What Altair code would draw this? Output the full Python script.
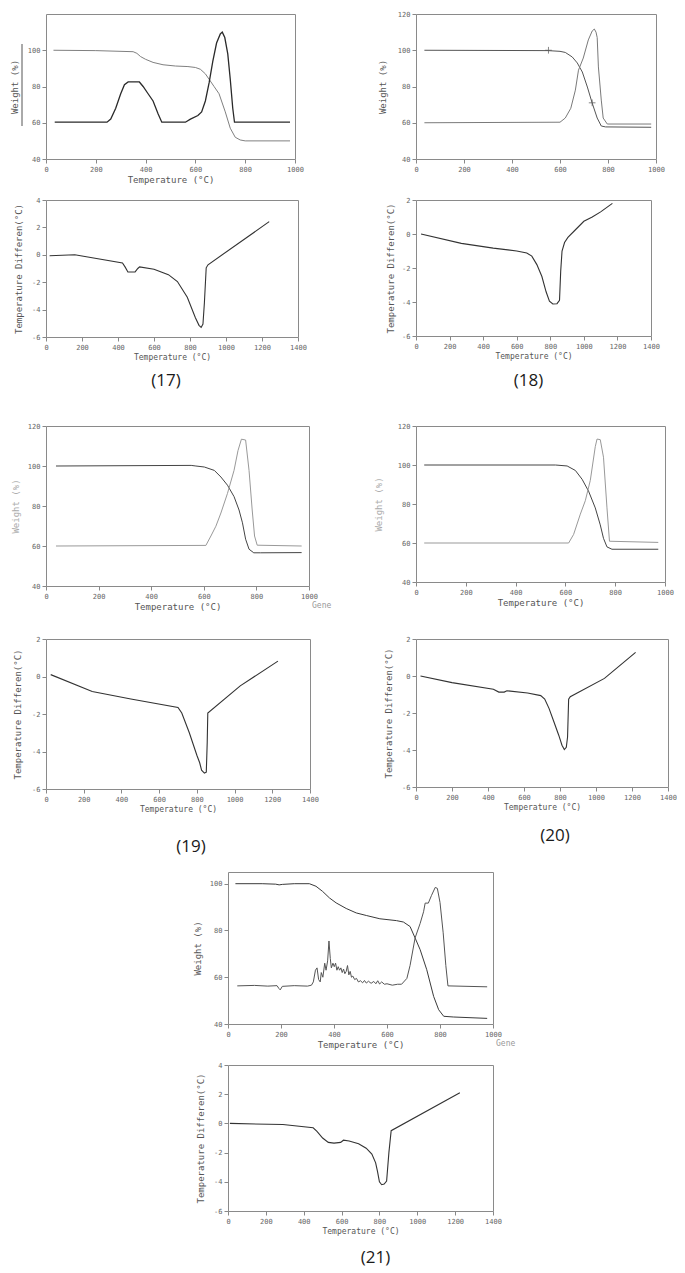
import altair as alt
import pandas as pd

# ---------------- data ----------------
TGA_X_TICKS = [0, 200, 400, 600, 800, 1000]
DTA_X_TICKS = [0, 200, 400, 600, 800, 1000, 1200, 1400]

# (17) TGA: weight curve and derivative-type curve  (temperature, value)
tga17_weight = [(30, 100), (200, 99.8), (350, 99.2), (365, 98.3), (380, 96.5), (400, 95), (430, 93.3),
                (470, 92), (520, 91.3), (570, 91), (600, 90.5), (620, 89.5), (640, 87), (655, 84),
                (675, 80), (695, 76), (720, 66), (740, 57), (760, 52), (780, 50.5), (800, 50), (980, 50)]
tga17_deriv = [(35, 60.3), (245, 60.3), (260, 62), (280, 68), (300, 76), (315, 81), (330, 82.5), (375, 82.5),
               (390, 80), (410, 76), (430, 72), (450, 65), (465, 60.3), (560, 60.3), (580, 62), (610, 64),
               (625, 66), (640, 72), (655, 82), (670, 94), (685, 104), (700, 109), (708, 110), (718, 107),
               (730, 98), (740, 84), (750, 68), (757, 60.3), (980, 60.3)]
# (18) TGA
tga18_weight = [(35, 100), (550, 99.8), (600, 99.4), (622, 98.8), (651, 96.3), (672, 93), (693, 88),
                (714, 79.7), (734, 70.9), (755, 62.6), (772, 58.2), (790, 57.7), (980, 57.5)]
tga18_deriv = [(35, 60), (600, 60.3), (622, 62.6), (645, 68), (664, 78), (677, 89), (697, 95.7),
               (718, 105.7), (734, 110.6), (743, 111.7), (750, 110), (755, 107), (760, 90.8), (772, 72.5),
               (780, 62.6), (797, 59.3), (980, 59.3)]
tga18_marks = [(552, 100), (734, 71)]
# (19) TGA
tga19_weight = [(38, 100), (552, 100.3), (570, 100), (602, 99.5), (640, 97.8), (665, 94.5), (690, 90.4),
                (715, 84.7), (734, 78), (747, 71.6), (759, 63.4), (772, 58.4), (790, 56.6), (815, 56.6),
                (972, 56.7)]
tga19_deriv = [(38, 60), (608, 60.3), (627, 65), (646, 69.9), (665, 76.5), (690, 86.3), (715, 97.8),
               (730, 107.7), (743, 113.4), (759, 113), (772, 97.8), (784, 78), (793, 65), (803, 60.4),
               (972, 60)]
# (20) TGA
tga20_weight = [(33, 100), (560, 100), (607, 99.5), (640, 97.2), (667, 92.7), (693, 86.6), (720, 78),
                (740, 69.3), (753, 62.4), (767, 58), (787, 56.8), (973, 56.8)]
tga20_deriv = [(33, 60), (613, 60), (633, 64.4), (660, 74.8), (680, 81.7), (700, 92.1), (720, 109.4),
               (727, 113.3), (740, 113), (753, 104), (767, 78), (777, 60.9), (973, 60.3)]
# (21) TGA
tga21_weight = [(28, 100), (129, 100), (180, 99.8), (193, 99.5), (205, 99.7), (250, 100), (307, 100),
                (332, 98.9), (357, 96.7), (383, 93.9), (408, 91.8), (446, 89.4), (484, 87.5), (522, 86.4),
                (573, 85), (636, 84.2), (662, 83.6), (687, 81.7), (706, 76.8), (725, 71.8), (750, 63.2),
                (776, 51.8), (795, 46.1), (814, 43.3), (850, 43), (978, 42.4)]
tga21_deriv = [(35, 56.3), (100, 56.5), (150, 56.2), (185, 56.4), (192, 55.2), (197, 54.6), (205, 56.1),
               (250, 56.4), (300, 56.2), (315, 56.6), (322, 58), (330, 63), (336, 64), (342, 59), (348, 58),
               (352, 62), (358, 60), (365, 66), (370, 63), (376, 67), (381, 75.5), (386, 68), (390, 64),
               (396, 66), (401, 64.5), (406, 66), (411, 63), (416, 64.5), (421, 63), (426, 64), (431, 62),
               (436, 63.5), (441, 61.5), (446, 62.5), (451, 65), (456, 61), (461, 62.5), (466, 60),
               (471, 60.5), (478, 59), (485, 59.5), (492, 58), (500, 58.5), (508, 57.6), (515, 58.6),
               (522, 57.5), (530, 58.3), (540, 57.4), (550, 58.2), (558, 57.2), (565, 58.5), (572, 57.1),
               (580, 58), (590, 57), (600, 57.2), (620, 56.6), (640, 57), (655, 57), (675, 59.5), (687, 65),
               (706, 76.8), (725, 83), (738, 88), (744, 91.7), (756, 91.7), (768, 95), (782, 98.4),
               (790, 98), (800, 92), (812, 79), (822, 65), (830, 56.3), (978, 55.9)]

# DTA curves (temperature, temperature difference)
dta17 = [(20, -0.07), (160, 0), (425, -0.6), (440, -0.9), (455, -1.25), (495, -1.25), (510, -1.0),
         (520, -0.88), (600, -1.05), (680, -1.45), (730, -1.95), (785, -3.1), (830, -4.6), (850, -5.15),
         (862, -5.3), (872, -5.05), (880, -3.5), (890, -0.95), (900, -0.73), (1240, 2.42)]
dta18 = [(30, 0), (270, -0.55), (460, -0.83), (600, -1.0), (660, -1.12), (690, -1.3), (720, -1.8),
         (750, -2.5), (775, -3.4), (795, -3.95), (815, -4.12), (840, -4.1), (855, -3.9), (862, -2.2),
         (870, -1.0), (885, -0.5), (905, -0.2), (950, 0.25), (1000, 0.75), (1050, 1.0), (1100, 1.3),
         (1170, 1.8)]
dta19 = [(25, 0.1), (245, -0.8), (450, -1.2), (700, -1.65), (720, -1.95), (760, -3.0), (800, -4.2),
         (815, -4.6), (825, -5.0), (840, -5.15), (850, -5.1), (855, -3.5), (858, -1.95), (1030, -0.5),
         (1230, 0.82)]
dta20 = [(25, 0), (200, -0.36), (430, -0.72), (460, -0.87), (490, -0.87), (505, -0.8), (620, -0.92),
         (693, -1.06), (715, -1.25), (739, -1.75), (766, -2.47), (793, -3.2), (811, -3.74), (824, -3.98),
         (835, -3.85), (842, -3.3), (848, -1.25), (857, -1.12), (1047, -0.13), (1220, 1.28)]
dta21 = [(10, 0), (290, -0.08), (450, -0.3), (470, -0.55), (500, -1.0), (530, -1.3), (560, -1.35),
         (595, -1.3), (610, -1.15), (640, -1.2), (690, -1.4), (730, -1.7), (760, -2.1), (780, -2.7),
         (790, -3.3), (800, -4.0), (812, -4.2), (825, -4.15), (838, -3.95), (850, -2.0), (862, -0.5),
         (1225, 2.1)]

panel_labels = ["(17)", "(18)", "(19)", "(20)", "(21)"]

# ---------------- styling ----------------
MONO = "DejaVu Sans Mono"
SANS = "Open Sans"
FRAME = "#8a8a8a"
SP_DF = pd.DataFrame({"v": [0]})
LABEL_EXPR = "datum.value + ''"


def spacer(w, h):
    return alt.Chart(SP_DF).mark_point(opacity=0, size=1).encode(
        x=alt.value(0), y=alt.value(0)
    ).properties(width=w, height=h, view=alt.ViewBackground(stroke="transparent"))


def x_axis(values, title, label_size=7, title_size=9):
    return alt.Axis(values=values, title=title, labelExpr=LABEL_EXPR, labelFontSize=label_size,
                    titleFontSize=title_size, tickSize=4, labelPadding=2, titlePadding=3,
                    labelFlush=False)


def y_axis(values, title, pad, color="#555", size=9):
    return alt.Axis(values=values, title=title, labelExpr=LABEL_EXPR, labelFontSize=7,
                    titleFontSize=size, titlePadding=pad, titleColor=color, tickSize=4,
                    labelPadding=2)


def tga_panel(weight, deriv, w, h, ydom, yticks, xtitle, pad, wcolor, dcolor, dwidth=1.0,
              ytitle_color="#555", marks=None, gene=False, underline=False):
    xs = alt.Scale(domain=[0, 1000], nice=False, zero=False)
    ys = alt.Scale(domain=ydom, nice=False, zero=False)
    xa = x_axis(TGA_X_TICKS, xtitle)
    ya = y_axis(yticks, "Weight (%)", pad, ytitle_color)
    enc = dict(x=alt.X("T:Q", scale=xs, axis=xa), y=alt.Y("V:Q", scale=ys, axis=ya))
    wdf = pd.DataFrame(weight, columns=["T", "V"])
    ddf = pd.DataFrame(deriv, columns=["T", "V"])
    layers = [
        alt.Chart(wdf).mark_line(strokeWidth=1, color=wcolor).encode(**enc),
        alt.Chart(ddf).mark_line(strokeWidth=dwidth, color=dcolor).encode(**enc),
    ]
    if marks:
        mdf = pd.DataFrame(marks, columns=["T", "V"])
        layers.append(alt.Chart(mdf).mark_point(shape="M-1,0H1M0,-1V1", size=45, filled=False,
                                                color="#555", strokeWidth=1).encode(**enc))
    if gene:
        layers.append(alt.Chart(SP_DF).mark_text(text="Gene", font=MONO, fontSize=8, color="#999",
                                                 align="left", baseline="middle").encode(
            x=alt.value(w + 3), y=alt.value(h + 20)))
    if underline:
        layers.append(alt.Chart(SP_DF).mark_rule(color="#555", strokeWidth=1).encode(
            x=alt.value(-24), y=alt.value(30), y2=alt.value(112)))
    return alt.layer(*layers).properties(width=w, height=h)


def dta_panel(points, w, h, ydom, yticks, pad, label, offset, dx):
    df = pd.DataFrame(points, columns=["T", "V"])
    xs = alt.Scale(domain=[0, 1400], nice=False, zero=False)
    ys = alt.Scale(domain=ydom, nice=False, zero=False)
    ch = alt.Chart(df).mark_line(strokeWidth=1.1, color="#333").encode(
        x=alt.X("T:Q", scale=xs, axis=x_axis(DTA_X_TICKS, "Temperature (°C)", 7, 8)),
        y=alt.Y("V:Q", scale=ys, axis=y_axis(yticks, "Temperature Differen(°C)", pad, "#555", 9)),
    )
    return ch.properties(
        width=w, height=h,
        title=alt.TitleParams(text=label, orient="bottom", anchor="middle", frame="group",
                              offset=offset, dx=dx, font=SANS, fontSize=17, fontWeight="normal",
                              color="#1a1a1a", baseline="middle"))


T_TEXT = "Temperature (°C)"
Y120 = [40, 60, 80, 100, 120]
D4 = [-6, -4, -2, 0, 2, 4]
D2 = [-6, -4, -2, 0, 2]

tga17 = tga_panel(tga17_weight, tga17_deriv, 249, 145, [40, 120], [40, 60, 80, 100], T_TEXT, 8,
                  "#808080", "#2a2a2a", dwidth=1.3, underline=True)
tga18 = tga_panel(tga18_weight, tga18_deriv, 240, 145, [40, 120], Y120, "", 10,
                  "#555555", "#7a7a7a", marks=tga18_marks)
tga19 = tga_panel(tga19_weight, tga19_deriv, 263, 160, [40, 120], Y120, T_TEXT, 7,
                  "#444444", "#999999", ytitle_color="#aaaaaa", gene=True)
tga20 = tga_panel(tga20_weight, tga20_deriv, 249, 156, [40, 120], Y120, T_TEXT, 14,
                  "#444444", "#999999", ytitle_color="#aaaaaa")
tga21 = tga_panel(tga21_weight, tga21_deriv, 265, 152, [40, 105], [40, 60, 80, 100], T_TEXT, 7,
                  "#3a3a3a", "#555555", gene=True)

d17 = dta_panel(dta17, 252, 137, [-6, 4], D4, 8, panel_labels[0], 20, -6)
d18 = dta_panel(dta18, 235, 136, [-6, 2], D2, 6, panel_labels[1], 21, -5)
d19 = dta_panel(dta19, 264, 150, [-6, 2], D2, 9, panel_labels[2], 34, 13)
d20 = dta_panel(dta20, 252, 148, [-6, 2], D2, 8, panel_labels[3], 25, 13)
d21 = dta_panel(dta21, 265, 146, [-6, 4], D4, 8, panel_labels[4], 23, 15)

# ---------------- layout: two flush grids stacked ----------------
S = spacer
top_cells = [
    S(37, 1), S(1, 5), S(106, 1), S(1, 5),
    S(37, 1), tga17, S(106, 1), tga18,
    S(1, 1), S(1, 41), S(1, 1), S(1, 41),
    S(37, 1), d17, S(106, 1), d18,
    S(1, 1), S(1, 89), S(1, 1), S(1, 89),
    S(37, 1), tga19, S(106, 1), tga20,
    S(1, 1), S(1, 53), S(1, 1), S(1, 53),
    S(37, 1), d19, S(106, 1), d20,
]
bottom_cells = [
    S(219, 15), S(1, 1),
    S(219, 1), tga21,
    S(1, 41), S(1, 1),
    S(219, 1), d21,
]
grid_top = alt.concat(*top_cells, columns=4, spacing=0, bounds="flush")
grid_bottom = alt.concat(*bottom_cells, columns=2, spacing=0, bounds="flush")

chart = alt.vconcat(grid_top, grid_bottom, spacing=0).properties(
    padding=0
).configure_view(
    stroke=FRAME, strokeWidth=1
).configure_axis(
    labelFont=MONO, titleFont=MONO, labelColor="#666", titleColor="#555",
    titleFontWeight="normal", tickColor="#888", domain=False, grid=False
)

chart.save("out.html", embed_options={"renderer": "svg", "actions": False})
